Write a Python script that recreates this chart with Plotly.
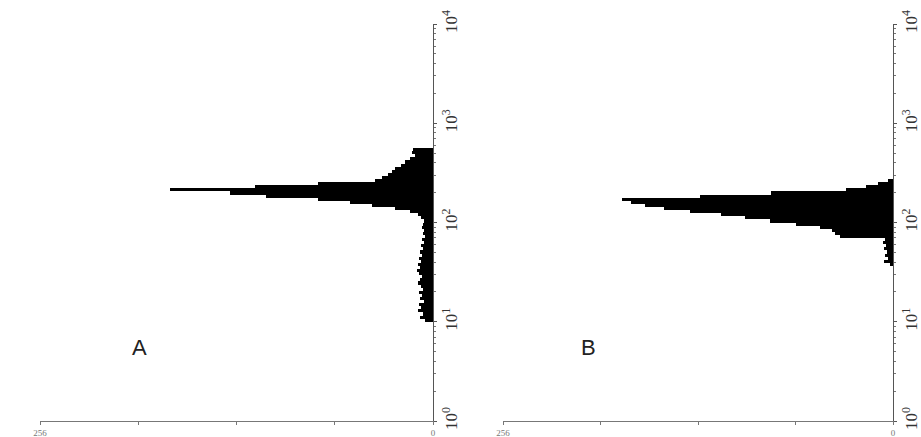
import plotly.graph_objects as go
import math

# ---- data ----
bin_width = 8  # channels per bin (1024 channels over 4 decades)
channels_a = list(range(256, 256 + 56 * 8, 8))
counts_a = [5, 8.5, 6.5, 10, 8, 9, 6, 8.5, 7, 9, 6.5, 8, 10, 8.5, 7, 9, 10.5, 8.5, 10, 8,
            9, 7, 8.5, 6.5, 8, 6, 7, 5, 6.5, 6, 7, 6.5, 6, 8, 10, 15, 25, 40, 54, 75,
            109, 132, 171, 116, 75, 38, 33, 29, 27, 25, 21, 18, 15, 12, 14, 13]
channels_b = list(range(400, 400 + 28 * 8, 8))
counts_b = [2, 6, 3.3, 5, 4, 6, 4.6, 6.6, 5, 35, 38, 40, 48, 64, 81, 97, 113, 133, 150, 163,
            172, 178, 127, 80, 31, 18, 10, 3.3]

y_tickvals = [0, 256, 512, 768, 1024]
y_ticktext = ["10<sup>0</sup>", "10<sup>1</sup>", "10<sup>2</sup>", "10<sup>3</sup>", "10<sup>4</sup>"]
x_tickvals = [0, 256]
x_ticktext = ["0", "256"]
x_minor_vals = [64, 128, 192]
panel_labels = ["A", "B"]

minor_vals = [256 * (d + math.log10(k)) for d in range(4) for k in range(2, 10)]

fig = go.Figure()
fig.add_trace(go.Bar(x=counts_a, y=[c + bin_width / 2 for c in channels_a], width=bin_width,
                     orientation="h", marker=dict(color="black", line=dict(width=0)),
                     xaxis="x", yaxis="y", showlegend=False))
fig.add_trace(go.Bar(x=counts_b, y=[c + bin_width / 2 for c in channels_b], width=bin_width,
                     orientation="h", marker=dict(color="black", line=dict(width=0)),
                     xaxis="x2", yaxis="y2", showlegend=False))

W, H = 921, 437
ydom = [1 - 421 / H, 1 - 24 / H]

def xaxis(dom, anchor):
    return dict(domain=dom, range=[256, 0], anchor=anchor, showgrid=False, zeroline=False,
                automargin=False,
                showline=True, linecolor="#777", linewidth=1,
                tickmode="array", tickvals=x_tickvals, ticktext=x_ticktext,
                ticks="outside", ticklen=3, tickcolor="#777",
                minor=dict(tickvals=x_minor_vals, ticks="outside", ticklen=3, tickcolor="#777"),
                tickfont=dict(family="Liberation Serif", size=9, color="#777"))

def yaxis(anchor):
    return dict(domain=ydom, range=[0, 1024], anchor=anchor, side="right", showgrid=False,
                zeroline=False, showline=True, linecolor="#555", linewidth=1,
                automargin=False,
                tickmode="array", tickvals=y_tickvals, ticktext=y_ticktext, tickangle=-90,
                ticks="outside", ticklen=3, tickcolor="#555",
                minor=dict(tickvals=minor_vals, ticks="outside", ticklen=2, tickcolor="#777"),
                tickfont=dict(family="Liberation Serif", size=17, color="#333"))

fig.update_layout(
    width=W, height=H, margin=dict(l=0, r=0, t=0, b=0, autoexpand=False),
    paper_bgcolor="white", plot_bgcolor="white", bargap=0,
    xaxis=xaxis([40 / W, 433 / W], "y"),
    yaxis=yaxis("x"),
    xaxis2=xaxis([503 / W, 893 / W], "y2"),
    yaxis2=yaxis("x2"),
    annotations=[
        dict(text=panel_labels[0], x=130 / W, y=1 - 362 / H, xref="paper", yref="paper",
             showarrow=False, font=dict(family="Liberation Sans", size=22, color="#222")),
        dict(text=panel_labels[1], x=588 / W, y=1 - 362 / H, xref="paper", yref="paper",
             showarrow=False, font=dict(family="Liberation Sans", size=22, color="#222")),
    ],
)

fig.write_html("out.html", config={"displayModeBar": False})

# remove the default page margin so the figure sits at the window's corner
with open("out.html", encoding="utf-8") as f:
    html = f.read()
html = html.replace("<head>", "<head><style>html,body{margin:0;padding:0;overflow:hidden}</style>", 1)
with open("out.html", "w", encoding="utf-8") as f:
    f.write(html)
